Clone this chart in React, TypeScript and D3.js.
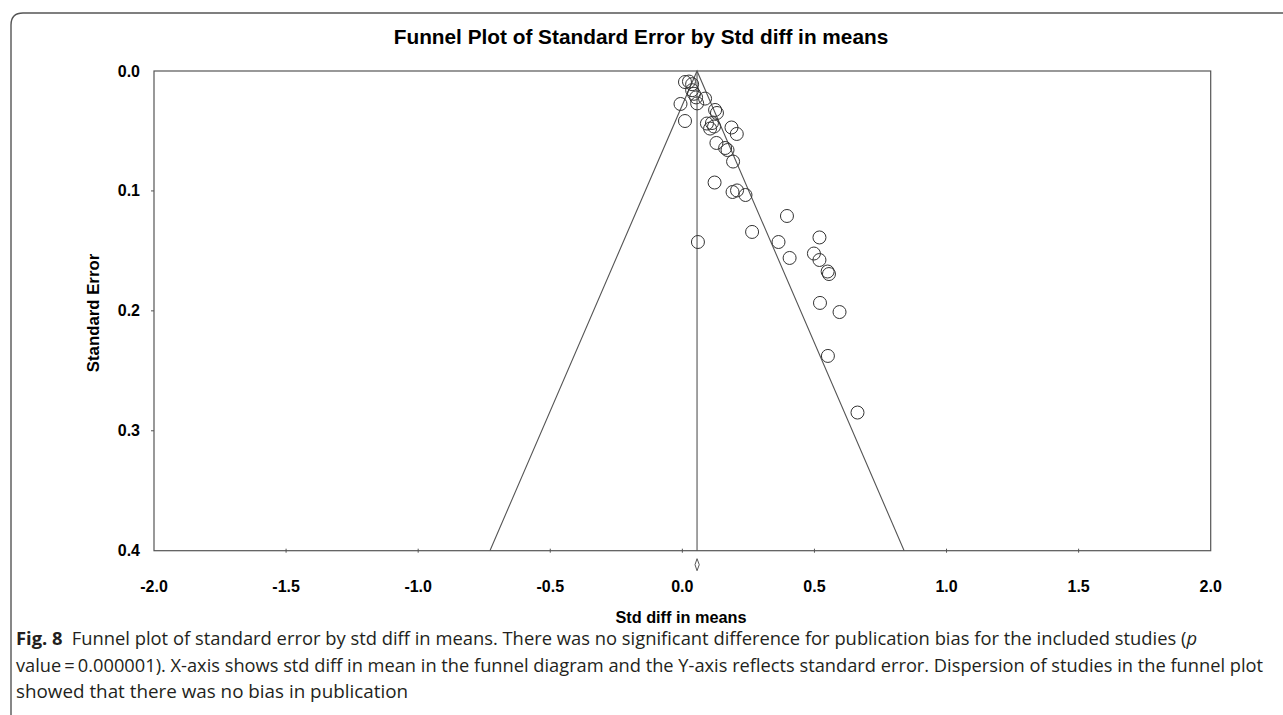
import React from "react";
import * as d3 from "d3";

// study-level values
const effects = [
  0.010, 0.025, 0.037, 0.037, 0.044, 0.052, 0.086, -0.007, 0.056, 0.010,
  0.124, 0.131, 0.093, 0.112, 0.105, 0.120, 0.186, 0.206, 0.129, 0.162,
  0.171, 0.192, 0.122, 0.190, 0.207, 0.239, 0.396, 0.264, 0.059, 0.364,
  0.519, 0.406, 0.498, 0.519, 0.550, 0.555, 0.521, 0.595, 0.551, 0.663,
];
const stdErrors = [
  0.0092, 0.0088, 0.011, 0.016, 0.019, 0.022, 0.023, 0.0275, 0.027, 0.0417,
  0.0325, 0.035, 0.0438, 0.0434, 0.048, 0.0463, 0.0471, 0.0525, 0.060, 0.0642,
  0.0659, 0.0755, 0.093, 0.1009, 0.0996, 0.1034, 0.1209, 0.1342, 0.1426, 0.1426,
  0.1388, 0.1559, 0.1522, 0.1576, 0.1672, 0.1693, 0.1934, 0.201, 0.2376, 0.2848,
];

const xTicks = [-2.0, -1.5, -1.0, -0.5, 0.0, 0.5, 1.0, 1.5, 2.0];
const yTicks = [0.0, 0.1, 0.2, 0.3, 0.4];

const summaryMean = 0.0556;
const summaryLow = 0.048;
const summaryHigh = 0.064;

const title = "Funnel Plot of Standard Error by Std diff in means";
const xTitle = "Std diff in means";
const yTitle = "Standard Error";

const W = 1283;
const H = 715;
const plot = { left: 154, right: 1210.7, top: 71, bottom: 550.7 };

export default function App() {
  const x = d3.scaleLinear().domain([-2, 2]).range([plot.left, plot.right]);
  const y = d3.scaleLinear().domain([0, 0.4]).range([plot.top, plot.bottom]);
  const seMax = y.domain()[1];

  const line = d3
    .line<[number, number]>()
    .x((d) => x(d[0]))
    .y((d) => y(d[1]));

  const funnel: [number, number][] = [
    [summaryMean - 1.96 * seMax, seMax],
    [summaryMean, 0],
    [summaryMean + 1.96 * seMax, seMax],
  ];

  const dy = plot.bottom + 14;
  const diamond = `M${x(summaryLow)},${dy} L${x(summaryMean)},${dy - 6} L${x(summaryHigh)},${dy} L${x(summaryMean)},${dy + 6} Z`;

  const axisColor = "#555";
  const labelFont = "'Liberation Sans', Arial, Helvetica, sans-serif";
  const capFont = "'Open Sans', 'Noto Sans', sans-serif";

  return (
    <svg
      width={W}
      height={H}
      style={{ position: "absolute", left: 0, top: 0, background: "#fff" }}
    >
      {/* figure frame */}
      <path d={`M11,${H} V25 Q11,13 23,13 H${W}`} fill="none" stroke="#555" strokeWidth={1.4} />

      <text x={641} y={44} textAnchor="middle" fontFamily={labelFont} fontWeight="bold" fontSize={20.8}>
        {title}
      </text>

      {/* plot box */}
      <rect
        x={plot.left}
        y={plot.top}
        width={plot.right - plot.left}
        height={plot.bottom - plot.top}
        fill="none"
        stroke={axisColor}
        strokeWidth={1.2}
      />

      {yTicks.map((t) => (
        <g key={"y" + t}>
          {t > 0 && t < 0.4 && (
            <line x1={plot.left - 3} x2={plot.left} y1={y(t)} y2={y(t)} stroke={axisColor} />
          )}
          <text
            x={140}
            y={y(t) + 5.5}
            textAnchor="end"
            fontFamily={labelFont}
            fontWeight="bold"
            fontSize={16}
          >
            {t.toFixed(1)}
          </text>
        </g>
      ))}

      {xTicks.map((t) => (
        <g key={"x" + t}>
          {t > -2 && t < 2 && (
            <line x1={x(t)} x2={x(t)} y1={plot.bottom - 2} y2={plot.bottom + 2} stroke={axisColor} />
          )}
          <text
            x={x(t)}
            y={592}
            textAnchor="middle"
            fontFamily={labelFont}
            fontWeight="bold"
            fontSize={16}
          >
            {t.toFixed(1)}
          </text>
        </g>
      ))}

      <text x={681} y={623} textAnchor="middle" fontFamily={labelFont} fontWeight="bold" fontSize={16.3}>
        {xTitle}
      </text>
      <text
        transform="translate(99,313) rotate(-90)"
        textAnchor="middle"
        fontFamily={labelFont}
        fontWeight="bold"
        fontSize={16.8}
      >
        {yTitle}
      </text>

      {/* funnel and mean */}
      <path d={line(funnel) || ""} fill="none" stroke={axisColor} strokeWidth={1.1} />
      <line
        x1={x(summaryMean)}
        x2={x(summaryMean)}
        y1={y(0)}
        y2={y(seMax)}
        stroke={axisColor}
        strokeWidth={1.1}
      />
      <path d={diamond} fill="#fff" stroke="#444" strokeWidth={0.9} />

      {effects.map((e, i) => (
        <circle
          key={i}
          cx={x(e)}
          cy={y(stdErrors[i])}
          r={6.5}
          fill="none"
          stroke="#333"
          strokeWidth={1}
        />
      ))}

      {/* caption */}
      <g fontFamily={capFont} fontSize={18.5} fill="#231f20">
        <text x={16} y={645} textLength={1181} lengthAdjust="spacingAndGlyphs">
          <tspan fontWeight="bold">{"Fig. 8\u2002"}</tspan>
          {"Funnel plot of standard error by std diff in means. There was no significant difference for publication bias for the included studies ("}
          <tspan fontStyle="italic">p</tspan>
        </text>
        <text x={16} y={671.5} textLength={1247} lengthAdjust="spacingAndGlyphs">
          {"value\u2009=\u20090.000001). X-axis shows std diff in mean in the funnel diagram and the Y-axis reflects standard error. Dispersion of studies in the funnel plot"}
        </text>
        <text x={16} y={698} textLength={392} lengthAdjust="spacingAndGlyphs">
          showed that there was no bias in publication
        </text>
      </g>
    </svg>
  );
}
